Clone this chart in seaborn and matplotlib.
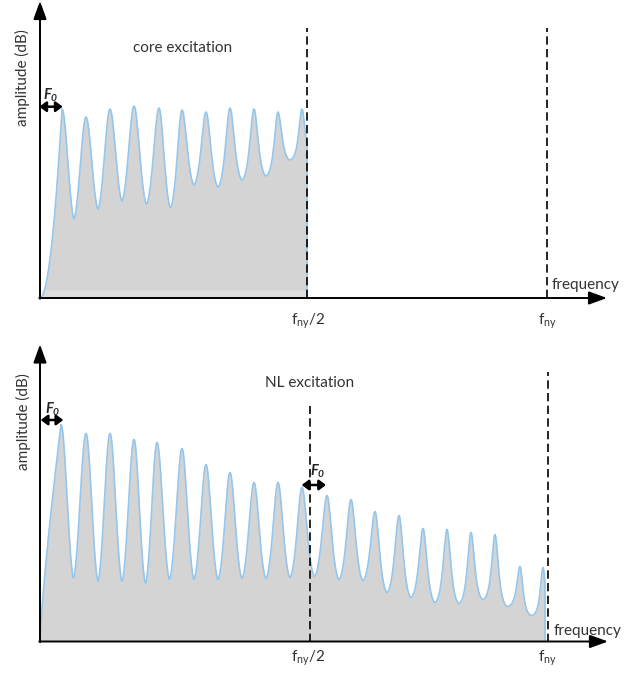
import numpy as np
import pandas as pd
import seaborn as sns
import matplotlib.pyplot as plt

# values (frequency and amplitude in arbitrary units)
# top panel: core excitation
core_peak_f = [22, 46, 70, 94, 119, 142, 166, 190, 214, 238, 262]
core_peak_amp = [189, 181, 189, 192, 190, 188, 186, 190, 189, 186, 189]
core_trough_amp = [79, 89, 97, 94, 90, 113, 111, 118, 122, 138]
core_end = 267

# bottom panel: NL excitation
nl_peak_f = [21, 46, 70, 94, 117, 142, 166, 190, 214, 238, 262,
             287, 311, 335, 359, 383, 407, 431, 455, 480, 503]
nl_peak_amp = [217, 208, 208, 202, 199, 193, 177, 169, 159, 159, 154,
               146, 142, 130, 126, 113, 112, 109, 107, 75, 74]
nl_trough_amp = [63, 60, 60, 58, 62, 62, 62, 63, 63, 64,
                 65, 62, 61, 49, 44, 39, 38, 42, 35, 26]
nl_end = 505

f_half = [267, 270]
f_ny = [507, 508]


def flank(u, w):
    # resonance-like flank: 1 at the peak, 0 at the trough, rounded trough
    u = np.clip(u, 0, 1)
    g = 1 / (1 + (u / w) ** 2)
    g1 = 1 / (1 + (1 / w) ** 2)
    return (g - g1) / (1 - g1) * (1 - u ** 2) ** 0.6


def spectrum(peak_f, peak_amp, trough_amp, f_end, rise_pow, w0, w1, n=40):
    width = np.linspace(w0, w1, len(peak_f))
    s = np.linspace(1, 0, n)
    fs = [peak_f[0] * (1 - s)]
    amps = [peak_amp[0] * (1 - s) ** rise_pow]
    for i in range(len(peak_f) - 1):
        s = np.linspace(0, 1, n)[1:]
        t = trough_amp[i]
        left = t + (peak_amp[i] - t) * flank(2 * s, width[i])
        right = t + (peak_amp[i + 1] - t) * flank(2 * (1 - s), width[i + 1])
        fs.append(peak_f[i] + s * (peak_f[i + 1] - peak_f[i]))
        amps.append(np.where(s < 0.5, left, right))
    step = peak_f[-1] - peak_f[-2]
    s = np.linspace(0, (f_end - peak_f[-1]) / step, 10)[1:]
    t = trough_amp[-1]
    fs.append(peak_f[-1] + s * step)
    amps.append(t + (peak_amp[-1] - t) * flank(2 * s, width[-1]))
    fs.append([f_end])
    amps.append([0.0])
    return pd.DataFrame({"frequency": np.concatenate(fs), "amplitude": np.concatenate(amps)})


sns.set_style("white")
plt.rcParams["font.family"] = ["Lato", "DejaVu Sans"]

fig = plt.figure(figsize=(6.39, 6.73), dpi=100)
ax1 = fig.add_axes([0, 1 - 336 / 673, 1, 336 / 673])
ax2 = fig.add_axes([0, 0, 1, 337 / 673])
ax1.set_xlim(-40, 599)
ax1.set_ylim(-38, 298)
ax2.set_xlim(-40, 599)
ax2.set_ylim(-31.5, 305.5)

core = spectrum(core_peak_f, core_peak_amp, core_trough_amp, core_end, 2.0, 1.0, 0.34)
nl = spectrum(nl_peak_f, nl_peak_amp, nl_trough_amp, nl_end, 0.8, 1.0, 0.28)

gray = "#d4d4d4"
blue = "#95c6ec"

# top panel
ax1.fill_between(core["frequency"], 0, core["amplitude"], color=gray, lw=0)
ax1.fill_between(core["frequency"], 0, np.minimum(core["amplitude"], 8), color="#dedede", lw=0)
sns.lineplot(data=core, x="frequency", y="amplitude", ax=ax1, color=blue, lw=1.2,
             estimator=None, sort=False)

# bottom panel
ax2.fill_between(nl["frequency"], 0, nl["amplitude"], color=gray, lw=0)
sns.lineplot(data=nl, x="frequency", y="amplitude", ax=ax2, color=blue, lw=1.2,
             estimator=None, sort=False)

for ax, top_half, top_ny, fh, fn in [(ax1, 270, 270, f_half[0], f_ny[0]),
                                     (ax2, 236, 270, f_half[1], f_ny[1])]:
    ax.plot([fh, fh], [0, top_half], color="black", lw=1.2, dashes=(5, 2.6))
    ax.plot([fn, fn], [0, top_ny], color="black", lw=1.2, dashes=(5, 2.6))

# axes with arrow heads
axis_style = dict(arrowstyle="-|>,head_length=1.1,head_width=0.4", lw=1.4, color="black",
                  shrinkA=0, shrinkB=0)
for ax, ytip, xtip in [(ax1, 297, 567), (ax2, 297, 568)]:
    ax.annotate("", xy=(0, ytip), xytext=(0, -0.7), arrowprops=axis_style, annotation_clip=False)
    ax.annotate("", xy=(xtip, 0), xytext=(-0.7, 0), arrowprops=axis_style, annotation_clip=False)

# F0 markers
f0_style = dict(arrowstyle="<|-|>,head_length=0.4,head_width=0.3", lw=1.8, color="black",
                shrinkA=0, shrinkB=0)
f0_label = r"$\mathregular{F_0}$"
for ax, x0, x1, y, tx, ty in [(ax1, -0.7, 22.7, 191.3, 11, 203),
                              (ax2, 0.7, 23.3, 221.5, 13, 232.5),
                              (ax2, 261.7, 286, 156.5, 278, 170.5)]:
    ax.annotate("", xy=(x1, y), xytext=(x0, y), arrowprops=f0_style, annotation_clip=False)
    ax.text(tx, ty, f0_label, ha="center", va="center", fontsize=10.5,
            fontweight="bold", style="italic")

label_kw = dict(fontsize=11, color="#333333")
ax1.text(-18, 220, "amplitude (dB)", rotation=90, ha="center", va="center", **label_kw)
ax2.text(-17, 219.5, "amplitude (dB)", rotation=90, ha="center", va="center", **label_kw)
ax1.text(143, 250, "core excitation", ha="center", va="center", **label_kw)
ax2.text(270, 258.5, "NL excitation", ha="center", va="center", **label_kw)
ax1.text(512, 13, "frequency", ha="left", va="center", **label_kw)
ax2.text(514, 10, "frequency", ha="left", va="center", **label_kw)
for ax, y in [(ax1, -23), (ax2, -16.5)]:
    ax.text(268, y, r"$\mathregular{f_{ny}/2}$", ha="center", va="center", **label_kw)
    ax.text(507, y, r"$\mathregular{f_{ny}}$", ha="center", va="center", **label_kw)

ax1.set_axis_off()
ax2.set_axis_off()

fig.savefig("out.png", dpi=100)
